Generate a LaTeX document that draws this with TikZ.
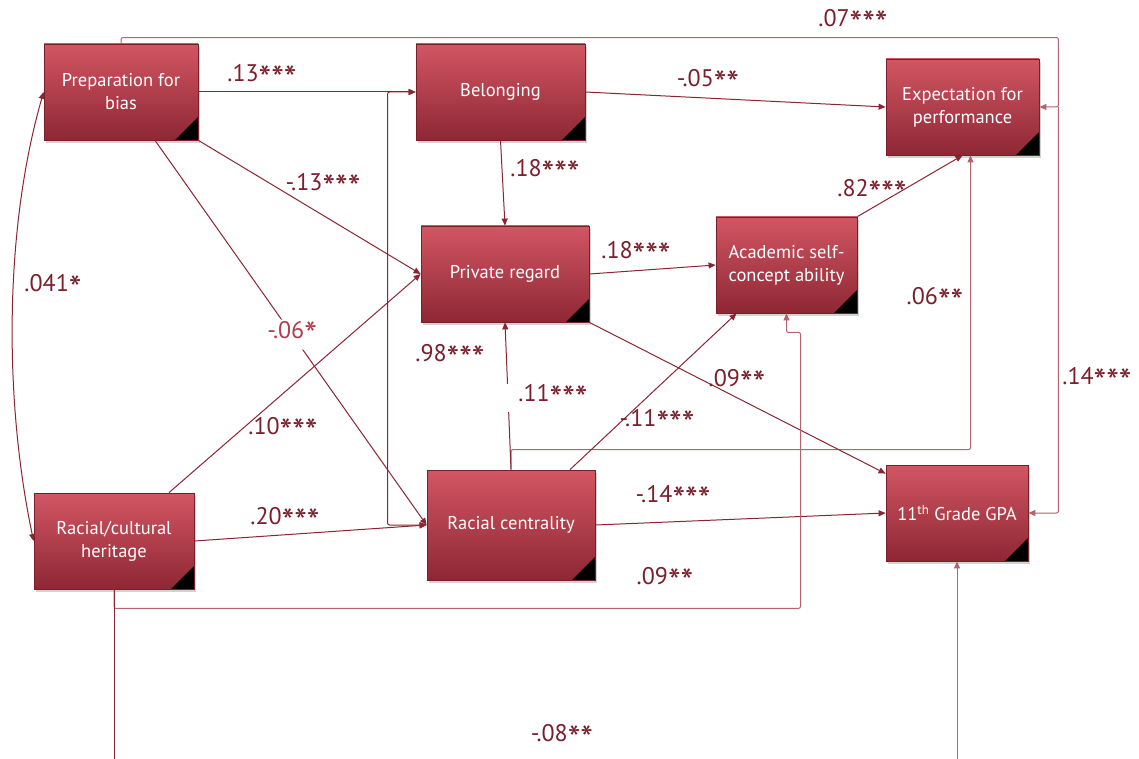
\documentclass[tikz,border=0pt]{standalone}
\usepackage{fontspec}
\usepackage{graphicx}
\setmainfont{PT Sans}
\usetikzlibrary{arrows.meta,shadows}
\definecolor{boxtop}{HTML}{D25663}
\definecolor{boxbot}{HTML}{8E2734}
\definecolor{boxline}{HTML}{7A1E2A}
\definecolor{lnk}{HTML}{8B2533}
\definecolor{lnkl}{HTML}{B2636D}
\definecolor{labc}{HTML}{7A1F2B}
\definecolor{labl}{HTML}{B23C4A}
\newcommand\st{\raisebox{-0.38em}{\scalebox{1.5}{*}}}
\tikzset{
 var/.style={draw=boxline, line width=0.8pt, top color=boxtop, bottom color=boxbot,
   text=white, align=center, font=\fontsize{18.5}{23}\selectfont, inner sep=0pt,
   drop shadow={shadow xshift=2pt, shadow yshift=-3pt, opacity=0.35},
   path picture={\fill[black] (path picture bounding box.south east) -- ++(-23pt,0pt) -- ++(23pt,23pt) -- cycle;}},
 lk/.style={draw=lnk, line width=1pt, rounded corners=2pt, -{Triangle[length=7pt,width=6pt]}},
 lkl/.style={lk, draw=lnkl},
 lab/.style={text=labc, font=\fontsize{24}{26}\selectfont, inner sep=1pt, yshift=-3pt},
}
\begin{document}
\begin{tikzpicture}[x=1pt,y=-1pt]
\useasboundingbox[fill=white] (0,0) rectangle (1139,759);
% nodes
\node[var, minimum width=154pt, minimum height=96pt] (prep) at (121,92) {Preparation for\\bias};
\node[var, minimum width=169pt, minimum height=96pt] (bel) at (500.5,92) {Belonging};
\node[var, minimum width=153pt, minimum height=96pt] (exp) at (962.5,107) {Expectation for\\performance};
\node[var, minimum width=168pt, minimum height=96pt] (priv) at (505,274) {Private regard};
\node[var, minimum width=141pt, minimum height=96pt] (acad) at (786.5,265) {Academic self-\\concept ability};
\node[var, minimum width=168pt, minimum height=110pt] (rc) at (511,525) {Racial centrality};
\node[var, minimum width=160pt, minimum height=96pt] (her) at (114,541) {Racial/cultural\\heritage};
\node[var, minimum width=142pt, minimum height=96pt] (gpa) at (957,513) {11\textsuperscript{th} Grade GPA};
\coordinate (b1) at (114,759);
\coordinate (b2) at (957,759);
% connectors
\draw[lkl] (prep.north) -- ++(0,-6) -| ([xshift=19pt]exp.east) -- (exp.east);
\draw[lkl] ([xshift=19pt]exp.east) |- (gpa.east);
\draw[lk] (prep.east) -- (bel.west);
\draw[lk] (prep.south east) -- (priv.west);
\draw[lk] ([xshift=34pt]prep.south) -- node[pos=0.505, fill=white, text=labl, font=\fontsize{24}{26}\selectfont, inner sep=2pt] {-.06\st} (rc.west);
\draw[lk] (her.east) -- (rc.west);
\draw[lk] ([xshift=55pt]her.north) -- (priv.west);
\draw[lk, {Triangle[length=7pt,width=6pt]}-{Triangle[length=7pt,width=6pt]}] (rc.west) -- ++(-39,0) |- (bel.west);
\draw[lk] (bel.south) -- (priv.north);
\draw[lk] (bel.east) -- (exp.west);
\draw[lk] (priv.east) -- (acad.west);
\draw[lk] (acad.north east) -- (exp.south);
\draw[lkl] (rc.north) -- ++(0,-20) -| ([xshift=8pt]exp.south);
\draw[lk] (rc.north) -- (priv.south);
\draw[lk] ([xshift=59pt]rc.north) -- ([xshift=-50pt]acad.south);
\draw[lk] (priv.south east) -- ([yshift=-9pt]gpa.north west);
\draw[lk] (rc.east) -- (gpa.west);
\draw[lkl] (her.south) -- ++(0,19) -| ([xshift=14pt,yshift=-19pt]acad.south) -| (acad.south);
\draw[lk, -] (her.south) -- (b1);
\draw[lkl] (b2) -- (gpa.south);
\draw[lk, {Triangle[length=7pt,width=6pt]}-{Triangle[length=7pt,width=6pt]}] (prep.west) .. controls (4,230) and (4,400) .. (her.west);
% labels
\node[lab] (l1) at (262,75) {.13\st\st\st};
\node[lab] (l2) at (323,184) {-.13\st\st\st};
\node[lab] (l3) at (53,285) {.041\st};
\node[lab] (l4) at (283,428) {.10\st\st\st};
\node[lab] (l5) at (285,518) {.20\st\st\st};
\node[lab] (l6) at (545,170) {.18\st\st\st};
\node[lab] (l7) at (708,80) {-.05\st\st};
\node[lab] (l8) at (853,20) {.07\st\st\st};
\node[lab] (l9) at (636,252) {.18\st\st\st};
\node[lab] (l10) at (872,190) {.82\st\st\st};
\node[lab] (l11) at (935,298) {.06\st\st};
\node[lab] (l12) at (450,355) {.98\st\st\st};
\node[lab, fill=white, inner xsep=12pt] (l13) at (553,395) {.11\st\st\st};
\node[lab] (l14) at (657,420) {-.11\st\st\st};
\node[lab] (l15) at (737,380) {.09\st\st};
\node[lab] (l16) at (673,496) {-.14\st\st\st};
\node[lab] (l17) at (665,578) {.09\st\st};
\node[lab] (l18) at (562,735) {-.08\st\st};
\node[lab] (l19) at (1097,378) {.14\st\st\st};
\end{tikzpicture}
\end{document}
